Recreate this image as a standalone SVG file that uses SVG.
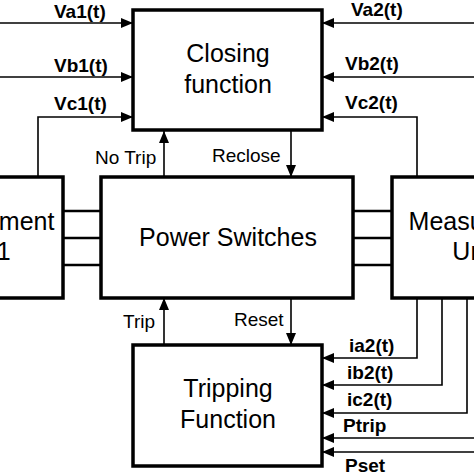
<svg xmlns="http://www.w3.org/2000/svg" width="474" height="474" viewBox="0 0 474 474">
<defs>
<marker id="ah" markerWidth="12" markerHeight="10" refX="12" refY="5" orient="auto" markerUnits="userSpaceOnUse">
<path d="M0,0 L12,5 L0,10 Z" fill="#000"/>
</marker>
<style>
.box{fill:#fff;stroke:#000;stroke-width:3.5}
.t{font-family:"Liberation Sans",Arial,sans-serif;font-size:25px;text-anchor:middle;fill:#000}
.lb{font-family:"Liberation Sans",Arial,sans-serif;font-size:19px;font-weight:bold;fill:#000}
.lr{font-family:"Liberation Sans",Arial,sans-serif;font-size:19px;fill:#000}
.c{fill:none;stroke:#000;stroke-width:1.6}
.a{fill:none;stroke:#000;stroke-width:1.6;marker-end:url(#ah)}
.bus{fill:none;stroke:#000;stroke-width:2.5}
</style>
</defs>
<rect width="474" height="474" fill="#fff"/>
<g id="connectors">
<path class="a" d="M0,23 H133"/>
<path class="a" d="M0,77 H133"/>
<path class="a" d="M38,177 V117 H133"/>
<path class="a" d="M474,23 H322"/>
<path class="a" d="M474,77 H322"/>
<path class="a" d="M417,177 V117 H322"/>
<path class="a" d="M164,177 V131"/>
<path class="a" d="M291,130 V177"/>
<path class="a" d="M164,345 V298"/>
<path class="a" d="M291,298 V345"/>
<path class="a" d="M417,298 V358 H322"/>
<path class="a" d="M442,298 V385 H322"/>
<path class="a" d="M467,298 V413 H322"/>
<path class="a" d="M474,438 H322"/>
<path class="a" d="M474,452 H322"/>
<path class="bus" d="M63,211 H101 M63,238 H101 M63,265 H101"/>
<path class="bus" d="M353,211 H392 M353,238 H392 M353,265 H392"/>
<text class="lb" x="54" y="18">Va1(t)</text>
<text class="lb" x="54" y="72">Vb1(t)</text>
<text class="lb" x="54" y="110">Vc1(t)</text>
<text class="lb" x="351" y="16">Va2(t)</text>
<text class="lb" x="345" y="70">Vb2(t)</text>
<text class="lb" x="345" y="109">Vc2(t)</text>
<text class="lr" x="95" y="164">No Trip</text>
<text class="lr" x="212" y="162">Reclose</text>
<text class="lr" x="123" y="328">Trip</text>
<text class="lr" x="234" y="326">Reset</text>
<text class="lb" x="349" y="352">ia2(t)</text>
<text class="lb" x="347" y="379">ib2(t)</text>
<text class="lb" x="347" y="406">ic2(t)</text>
<text class="lb" x="343" y="432">Ptrip</text>
<text class="lb" x="345" y="472">Pset</text>
</g>
<g id="closing">
<rect class="box" x="133" y="10" width="189" height="120"/>
<text class="t" x="228" y="62">Closing</text>
<text class="t" x="228" y="93">function</text>
</g>
<g id="power">
<rect class="box" x="101" y="177" width="252" height="121"/>
<text class="t" x="228" y="246">Power Switches</text>
</g>
<g id="meas1">
<rect class="box" x="-130" y="177" width="193" height="121"/>
<text class="t" x="-22" y="230">Measurement</text>
<text class="t" x="-22" y="260">Unit 1</text>
</g>
<g id="meas2">
<rect class="box" x="392" y="177" width="190" height="121"/>
<text class="t" x="485" y="230">Measurement</text>
<text class="t" x="485" y="260">Unit 2</text>
</g>
<g id="tripping">
<rect class="box" x="133" y="345" width="189" height="121"/>
<text class="t" x="228" y="397">Tripping</text>
<text class="t" x="228" y="428">Function</text>
</g>
</svg>
